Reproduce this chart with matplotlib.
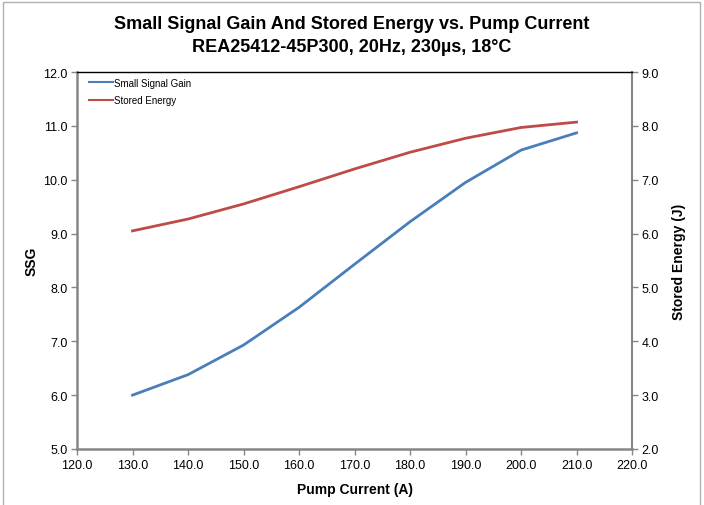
import numpy as np
import matplotlib
matplotlib.use("Agg")
import matplotlib.pyplot as plt
from matplotlib.patches import Rectangle

# data
current = [130, 140, 150, 160, 170, 180, 190, 200, 210]
ssg = [6.0, 6.38, 6.93, 7.63, 8.43, 9.22, 9.95, 10.55, 10.87]
energy = [6.05, 6.27, 6.55, 6.87, 7.20, 7.51, 7.77, 7.97, 8.07]

plt.rcParams['font.family'] = ['Liberation Sans', 'DejaVu Sans']

fig = plt.figure(figsize=(7.04, 5.06), dpi=100)
fig.patches.append(Rectangle((0.004, -0.1), 0.99, 1.094, transform=fig.transFigure,
                             fill=False, edgecolor='#b0b0b0', lw=1))

ax = fig.add_axes([0.1094, 0.1107, 0.7884, 0.745])
ax2 = ax.twinx()

l1, = ax.plot(current, ssg, color='#4a7ebb', lw=2, label='Small Signal Gain')
l2, = ax2.plot(current, energy, color='#be4b48', lw=2, label='Stored Energy')

ax.set_xlim(120, 220)
ax.set_ylim(5, 12)
ax2.set_ylim(2, 9)
ax.set_xticks(np.arange(120, 221, 10))
ax.set_yticks(np.arange(5, 12.1, 1))
ax2.set_yticks(np.arange(2, 9.1, 1))
ax.xaxis.set_major_formatter(plt.FormatStrFormatter('%.1f'))
ax.yaxis.set_major_formatter(plt.FormatStrFormatter('%.1f'))
ax2.yaxis.set_major_formatter(plt.FormatStrFormatter('%.1f'))

for a in (ax, ax2):
    a.tick_params(direction='out', length=4, width=1, color='#868686',
                  labelsize=9, pad=3)
    for s in a.spines.values():
        s.set_visible(False)
ax.spines['left'].set_visible(True)
ax.spines['bottom'].set_visible(True)
ax.spines['left'].set_color('#868686')
ax.spines['bottom'].set_color('#868686')
ax.spines['left'].set_linewidth(1.8)
ax.spines['bottom'].set_linewidth(1.8)
ax2.spines['right'].set_visible(True)
ax2.spines['right'].set_color('#868686')
ax2.spines['right'].set_linewidth(1.5)
ax2.spines['top'].set_visible(True)
ax2.spines['top'].set_color('black')
ax2.spines['top'].set_linewidth(1)

ax.set_xlabel('Pump Current (A)', fontsize=10, fontweight='bold', labelpad=8)
ax.set_ylabel('SSG', fontsize=10, fontweight='bold', labelpad=3)
ax2.set_ylabel('Stored Energy (J)', fontsize=10, fontweight='bold', labelpad=9)

fig.text(0.5, 0.951, 'Small Signal Gain And Stored Energy vs. Pump Current',
         ha='center', va='center', fontsize=13, fontweight='bold')
fig.text(0.5, 0.906, 'REA25412-45P300, 20Hz, 230\u00b5s, 18\u00b0C',
         ha='center', va='center', fontsize=13, fontweight='bold')

ax.legend(handles=[l1, l2], loc='upper left', bbox_to_anchor=(0.005, 1.008),
          frameon=False, fontsize=7, handlelength=2.5, handletextpad=0.1,
          labelspacing=0.75)
for ln in ax.get_legend().get_lines():
    ln.set_linewidth(1.5)

fig.savefig('out.png', dpi=100)
